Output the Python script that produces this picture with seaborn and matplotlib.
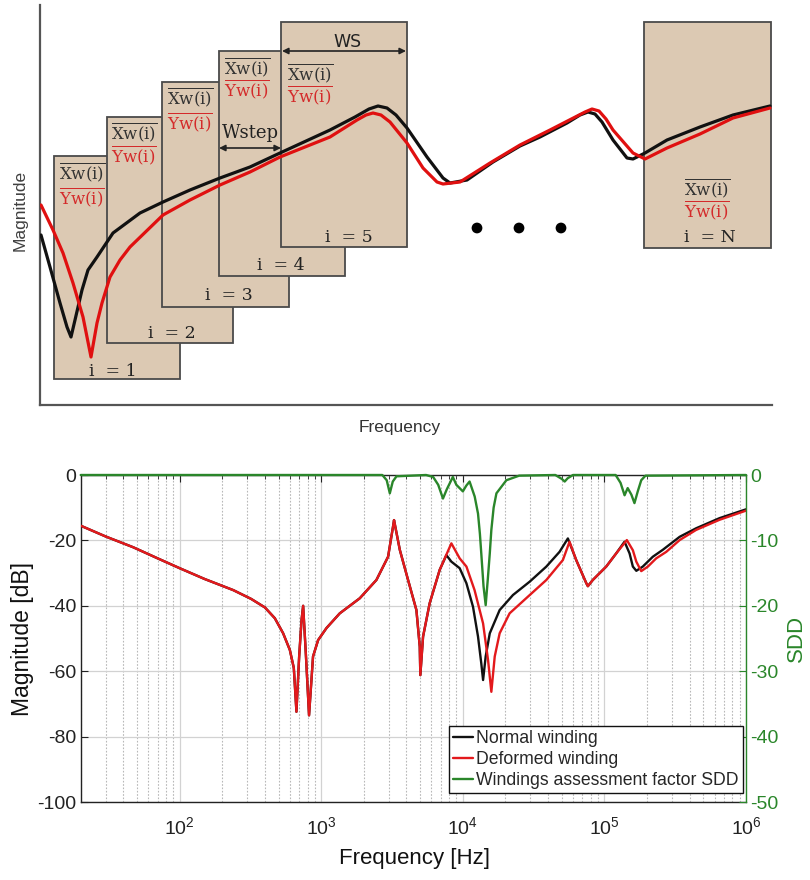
import matplotlib
matplotlib.use("Agg")
import matplotlib.pyplot as plt
from matplotlib.patches import Rectangle
import seaborn as sns
import pandas as pd

# ---------------- data: top schematic (arbitrary units) ----------------
sch_x_normal = [1, 10, 20, 27, 31, 35, 42, 48, 57, 73, 100, 123, 150, 180, 210, 240,
                290, 315, 329, 338, 347, 356, 367, 387, 403, 410, 427, 453, 480, 500, 527,
                540, 548, 555, 562, 573, 587, 593, 605, 627, 660, 693, 730]
sch_y_normal = [170, 138, 102, 78, 68, 85, 115, 135, 148, 172, 192, 203, 215, 227, 238, 252,
                275, 288, 296, 299, 297, 290, 277, 248, 227, 222, 225, 243, 259, 268, 282,
                290, 293, 291, 283, 265, 247, 246, 252, 265, 278, 290, 299]
sch_x_deformed = [1, 13, 23, 33, 43, 51, 57, 62, 70, 80, 90, 123, 150, 180, 210, 240,
                  290, 317, 326, 333, 341, 350, 367, 383, 397, 403, 420, 450, 480, 510,
                  545, 552, 559, 566, 573, 593, 605, 627, 660, 693, 730]
sch_y_deformed = [200, 175, 152, 122, 88, 48, 82, 102, 128, 145, 158, 190, 205, 220, 233, 248,
                  268, 285, 290, 292, 290, 283, 262, 237, 223, 221, 223, 242, 260, 275,
                  293, 296, 294, 286, 275, 252, 246, 257, 271, 287, 297]
window_labels = ["i  = 1", "i  = 2", "i  = 3", "i  = 4", "i  = 5", "i  = N"]
dots_x = [437, 479, 521]
dots_y = [177, 177, 177]

# ---------------- data: bottom FRA chart ----------------
freq_common = [20, 30, 47, 70, 100, 150, 239, 320, 400, 470, 538, 600, 640, 668, 698, 726,
               745, 778, 820, 875, 950, 1089, 1352, 1871, 2453, 2965, 3213, 3266, 3589,
               4104, 4700, 4964, 5010, 5238, 5834, 6866]
mag_common = [-15.5, -18.8, -22.1, -25.5, -28.5, -31.8, -35.2, -37.9, -40.5, -43.8, -48.4,
              -53.5, -59.0, -72.4, -55.6, -44.3, -40.0, -54.5, -73.5, -55.5, -50.5, -46.8,
              -42.3, -37.7, -32.1, -25.0, -15.8, -13.8, -22.9, -32.1, -41.3, -52.5, -61.2,
              -49.4, -39.2, -29.0]
freq_normal_hi = [7651, 8300, 9500, 10600, 11800, 12800, 13500, 13900, 14500, 15500, 18200,
                  22600, 29700, 38900, 48200, 55200, 63200, 74500, 76400, 82800, 103000,
                  121000, 138700, 150600, 158800, 168000, 186700, 219700, 258000, 340000,
                  444000, 650000, 1000000]
mag_normal_hi = [-24.5, -26.5, -28.5, -33.1, -40.3, -49.4, -57.6, -62.7, -55.5, -48.4, -41.3,
                 -36.7, -32.6, -28.0, -23.5, -19.4, -26.0, -33.1, -34.0, -32.1, -28.0,
                 -24.0, -20.4, -24.0, -28.0, -29.3, -28.0, -25.0, -22.9, -18.9,
                 -16.3, -13.2, -10.5]
freq_deformed_hi = [8300, 9500, 10600, 12100, 13900, 15070, 15900, 16800, 18200, 21400, 28000,
                    38900, 50900, 56700, 63200, 74500, 76400, 82800, 103000, 121000, 144000,
                    158800, 168000, 182000, 202800, 232000, 273400, 340000, 444000, 650000,
                    1000000]
mag_deformed_hi = [-20.9, -25.5, -28.0, -35.2, -45.4, -56.6, -66.3, -55.5, -48.4, -42.3, -37.7,
                   -32.1, -26.0, -20.4, -26.0, -33.1, -34.0, -32.1, -28.0, -24.0, -19.9,
                   -23.0, -26.5, -29.4, -28.0, -25.5, -23.5, -19.9, -16.8, -13.7,
                   -10.9]
freq_sdd = [20, 2700, 2900, 3050, 3200, 3400, 5500, 6170, 6700, 7240, 7700, 8070, 8500, 9000,
            10000, 10600, 11160, 12130, 12800, 13200, 13500, 14000, 14500, 15000, 15500,
            15900, 16500, 17270, 20300, 25000, 45000, 50000, 52400, 55000, 60000, 120000,
            130000, 138800, 146000, 155000, 163000, 172000, 182000, 195000, 1000000]
sdd = [0, 0, -0.8, -2.8, -1.0, -0.2, 0, -0.3, -1.5, -3.6, -2.2, -1.3, -0.3, -1.5,
       -2.5, -1.6, -1.0, -3.3, -5.9, -9.0, -12.0, -17.0, -19.9, -16.0, -12.0,
       -8.4, -5.0, -2.8, -0.8, -0.1, 0, -0.6, -1.0, -0.5, 0, 0,
       -1.2, -3.1, -2.0, -3.0, -4.3, -2.5, -0.8, -0.1, 0]
left_ticks = [0, -20, -40, -60, -80, -100]
right_ticks = [0, -10, -20, -30, -40, -50]
legend_labels = ["Normal winding", "Deformed winding", "Windings assessment factor SDD"]

# ---------------- style ----------------
sns.set_style("white")
plt.rcParams["font.family"] = ["Liberation Sans", "DejaVu Sans"]
plt.rcParams["axes.unicode_minus"] = False

BLACK = "#111111"
RED = "#e3191c"
GREEN = "#2a862a"
TAN = "#dcc9b3"

fig = plt.figure(figsize=(8.1, 8.8), dpi=100)

# ================= top schematic =================
ax_t = fig.add_axes([40 / 810, 1 - 405 / 880, 732 / 810, 400 / 880])
for s in ["top", "right"]:
    ax_t.spines[s].set_visible(False)
for s in ["left", "bottom"]:
    ax_t.spines[s].set_color("#555555")
    ax_t.spines[s].set_linewidth(1.6)

boxes = [(14, 26, 126, 223), (67, 62, 126, 226), (122, 98, 127, 225),
         (179, 129, 126, 225), (241, 158, 126, 225), (604, 157, 127, 226)]
for (x0, y0, w, h) in boxes:
    ax_t.add_patch(Rectangle((x0, y0), w, h, facecolor=TAN, edgecolor="#4a4a4a",
                             lw=1.3, zorder=1))

xw_pos = [(42, 233, 208), (94, 273, 250), (150, 308, 283), (207, 338, 316),
          (270, 332, 310), (667, 217, 195)]
for (cx, yx, yy) in xw_pos:
    ax_t.text(cx, yx, r"$\overline{\mathrm{Xw(i)}}$", math_fontfamily="dejavuserif",
              fontsize=12, color="#333333", ha="center", va="center", zorder=4)
    ax_t.text(cx, yy, r"$\overline{\mathrm{Yw(i)}}$", math_fontfamily="dejavuserif",
              fontsize=12, color="#d42a2a", ha="center", va="center", zorder=4)

i_pos = [(73, 34), (132, 72), (189, 110), (241, 140), (309, 168), (670, 168)]
for lab, (cx, cy) in zip(window_labels, i_pos):
    ax_t.text(cx, cy, lab, family="DejaVu Serif", fontsize=12.5, color="#222222",
              ha="center", va="center", zorder=4)

ax_t.text(210, 272, "Wstep", family="DejaVu Serif", fontsize=13, color="#222222",
          ha="center", va="center", zorder=4)
ax_t.annotate("", xy=(179, 257), xytext=(241, 257),
              arrowprops=dict(arrowstyle="<|-|>", color="#222222", lw=1.2,
                              mutation_scale=9, shrinkA=0, shrinkB=0), zorder=4)
ax_t.text(307, 363, "WS", family="DejaVu Sans", fontsize=12.5, color="#222222",
          ha="center", va="center", zorder=4)
ax_t.annotate("", xy=(242, 354), xytext=(366, 354),
              arrowprops=dict(arrowstyle="<|-|>", color="#222222", lw=1.2,
                              mutation_scale=9, shrinkA=0, shrinkB=0), zorder=4)

sns.lineplot(x=sch_x_normal, y=sch_y_normal, ax=ax_t, color=BLACK, lw=2.3,
             estimator=None, sort=False, zorder=3)
sns.lineplot(x=sch_x_deformed, y=sch_y_deformed, ax=ax_t, color="#e01010", lw=2.3,
             estimator=None, sort=False, zorder=3)
sns.scatterplot(x=dots_x, y=dots_y, ax=ax_t, color="black", s=60, edgecolor="none",
                zorder=4)

ax_t.set_xlim(0, 732)
ax_t.set_ylim(0, 400)
ax_t.set_xticks([])
ax_t.set_yticks([])
ax_t.set_xlabel("")
ax_t.set_ylabel("")
ax_t.text(-20 / 732, (405 - 210) / 400, "Magnitude", transform=ax_t.transAxes,
          rotation=90, ha="center", va="center", fontsize=12.5, color="#404040",
          clip_on=False)
ax_t.text((400 - 40) / 732, -22 / 400, "Frequency", transform=ax_t.transAxes,
          ha="center", va="center", fontsize=12.5, color="#333333", clip_on=False)

# ================= bottom FRA chart =================
ax_b = fig.add_axes([80.7 / 810, 1 - 802 / 880, 665.3 / 810, 327 / 880])
ax_b.set_xscale("log")

freq_normal = freq_common + freq_normal_hi
mag_normal = mag_common + mag_normal_hi
freq_deformed = freq_common + freq_deformed_hi
mag_deformed = mag_common + mag_deformed_hi

df_n = pd.DataFrame({"f": freq_normal, "m": mag_normal})
df_d = pd.DataFrame({"f": freq_deformed, "m": mag_deformed})
sns.lineplot(data=df_n, x="f", y="m", ax=ax_b, color=BLACK, lw=1.7, estimator=None,
             zorder=3)
sns.lineplot(data=df_d, x="f", y="m", ax=ax_b, color=RED, lw=1.7, estimator=None,
             zorder=4)

ax_b.set_xlim(20, 1e6)
ax_b.set_ylim(-100, 0)
ax_b.set_yticks(left_ticks)
ax_b.set_yticklabels([str(v) for v in left_ticks])
ax_b.grid(which="major", color="#d2d2d2", lw=0.9, ls="-")
ax_b.grid(which="minor", axis="x", color="#b8b8b8", lw=0.8, ls=(0, (1.5, 1.5)))
ax_b.set_axisbelow(True)
ax_b.tick_params(axis="both", which="both", direction="in", top=True, right=False,
                 labelsize=14, colors="#222222")
ax_b.tick_params(axis="x", which="major", length=5, pad=10)
ax_b.tick_params(axis="x", which="minor", length=3)
ax_b.tick_params(axis="y", which="major", length=5, pad=3)
for s in ["top", "bottom", "left"]:
    ax_b.spines[s].set_color("#222222")
    ax_b.spines[s].set_linewidth(1.0)
ax_b.spines["right"].set_visible(False)
ax_b.set_xlabel("Frequency [Hz]", fontsize=16, color="#111111")
ax_b.xaxis.set_label_coords((415 - 80.7) / 665.3, -46 / 327)
ax_b.set_ylabel("Magnitude [dB]", fontsize=16.5, color="#111111")
ax_b.yaxis.set_label_coords(-47 / 665.3, 0.5)
if ax_b.get_legend() is not None:
    ax_b.get_legend().remove()

ax2 = ax_b.twinx()
df_s = pd.DataFrame({"f": freq_sdd, "s": sdd})
sns.lineplot(data=df_s, x="f", y="s", ax=ax2, color=GREEN, lw=1.7, estimator=None,
             zorder=5, clip_on=False)
ax2.set_xscale("log")
ax2.set_xlim(20, 1e6)
ax2.set_ylim(-50, 0)
ax2.set_yticks(right_ticks)
ax2.set_yticklabels([str(v) for v in right_ticks])
ax2.tick_params(axis="y", direction="in", colors=GREEN, labelsize=14, length=5, pad=3)
for s in ["top", "bottom", "left"]:
    ax2.spines[s].set_visible(False)
ax2.spines["right"].set_color(GREEN)
ax2.spines["right"].set_linewidth(1.0)
ax2.set_ylabel("SDD", fontsize=16, color=GREEN)
ax2.yaxis.set_label_coords(1 + 40 / 665.3, 0.5)
ax2.set_xlabel("")

h_n = ax_b.get_lines()[0]
h_d = ax_b.get_lines()[1]
h_s = ax2.get_lines()[0]
if ax2.get_legend() is not None:
    ax2.get_legend().remove()
leg = ax2.legend([h_n, h_d, h_s], legend_labels, loc="lower right",
                 bbox_to_anchor=(0.9955, 0.027), fontsize=12.7, frameon=True,
                 fancybox=False, edgecolor="#111111", framealpha=1,
                 handlelength=1.15, handletextpad=0.15, labelspacing=0.22,
                 borderpad=0.25, borderaxespad=0)
leg.get_frame().set_linewidth(1.0)

fig.savefig("out.png", dpi=100)
